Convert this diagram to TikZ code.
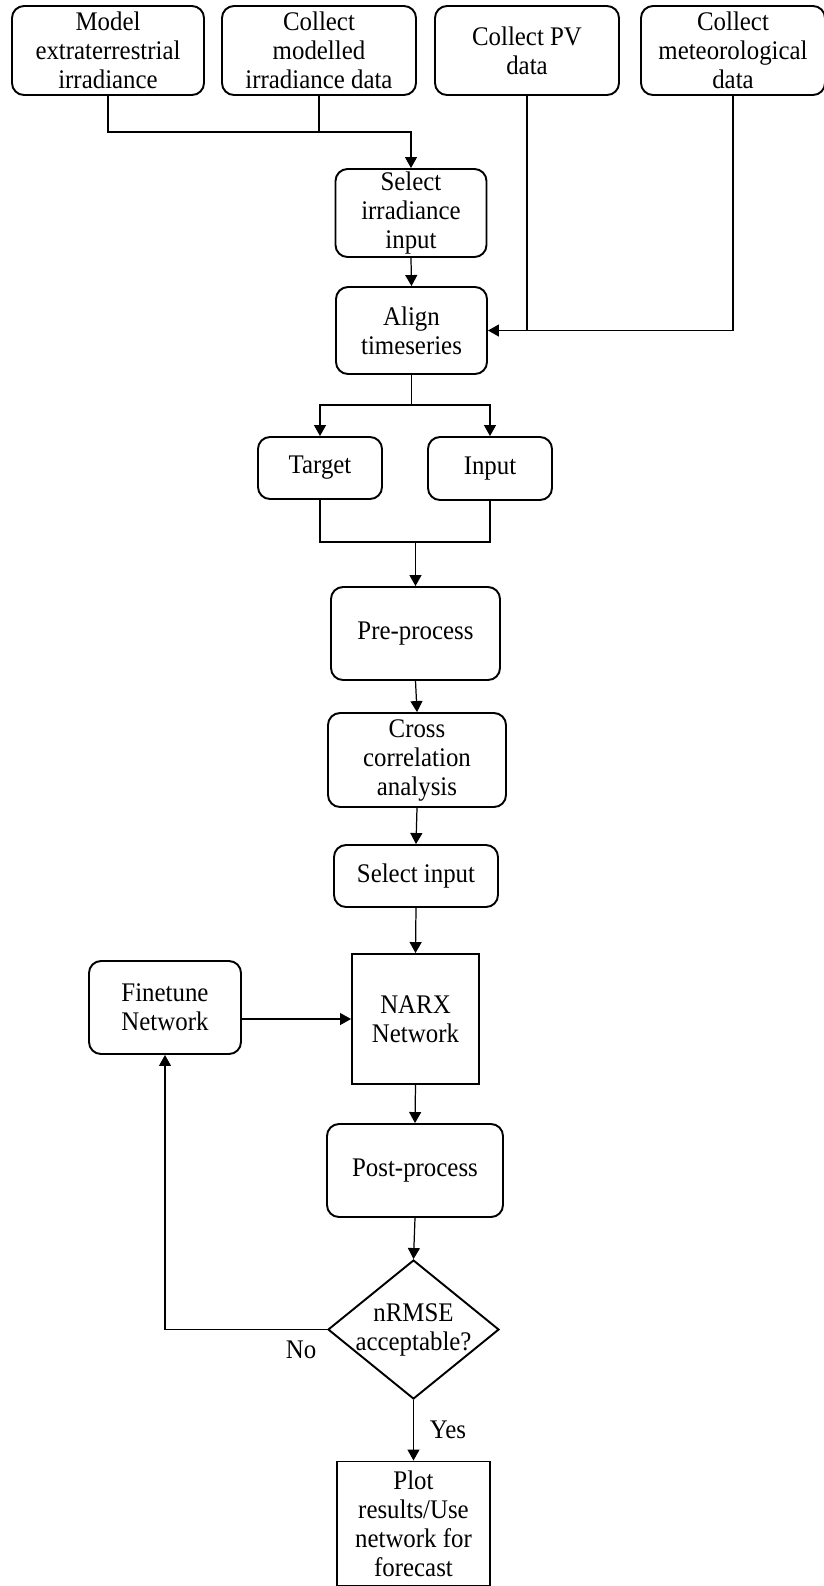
\documentclass[tikz,border=0pt]{standalone}
\usepackage{fontspec}
\setmainfont{Liberation Serif}[FakeStretch=0.925]
\usetikzlibrary{arrows.meta,shapes.geometric}

\newcommand{\flowfont}{\fontsize{15.3}{16.5}\selectfont}

\tikzset{
  box/.style={draw, line width=1.1pt, rounded corners=2.4mm, align=center, inner sep=1pt},
  sharpbox/.style={draw, line width=1.1pt, align=center, inner sep=1pt},
  decision/.style={draw, line width=1.1pt, diamond, align=center, inner sep=0pt},
  link/.style={line width=0.7pt},
}

\begin{document}
\begin{tikzpicture}[x=0.2mm, y=-0.2mm, font=\flowfont, >={Triangle[length=2.2mm,width=2.4mm]}]
  \useasboundingbox (0,0) rectangle (824,1586);

  % Data sources
  \node[box, minimum width=38.4mm, minimum height=17.8mm] (model) at (108,50.5) {Model\\extraterrestrial\\irradiance};
  \node[box, minimum width=38.8mm, minimum height=17.8mm] (modelled) at (319,50.5) {Collect\\modelled\\irradiance data};
  \node[box, minimum width=36.8mm, minimum height=17.8mm] (pv) at (527,50.5) {Collect PV\\data};
  \node[box, minimum width=36.8mm, minimum height=17.8mm] (met) at (733,50.5) {Collect\\meteorological\\data};

  % Main column
  \node[box, minimum width=30.2mm, minimum height=17.6mm] (selirr) at (411,213) {Select\\irradiance\\input};
  \node[box, minimum width=30.2mm, minimum height=17.4mm] (align) at (411.5,330.5) {Align\\timeseries};
  \node[box, minimum width=24.8mm, minimum height=12.4mm] (target) at (320,468) {Target};
  \node[box, minimum width=24.8mm, minimum height=12.6mm] (input) at (490,468.5) {Input};
  \node[box, minimum width=33.8mm, minimum height=18.6mm] (pre) at (415.5,633.5) {Pre-process};
  \node[box, minimum width=35.6mm, minimum height=18.8mm] (cross) at (417,760) {Cross\\correlation\\analysis};
  \node[box, minimum width=32.8mm, minimum height=12.4mm] (selin) at (416,876) {Select input};
  \node[sharpbox, minimum width=25.4mm, minimum height=26mm] (narx) at (415.5,1019) {NARX\\Network};
  \node[box, minimum width=30.4mm, minimum height=18.6mm] (fine) at (165,1007.5) {Finetune\\Network};
  \node[box, minimum width=35.2mm, minimum height=18.6mm] (post) at (415,1170.5) {Post-process};
  \node[decision, minimum width=34.2mm, minimum height=27.8mm] (check) at (413.5,1329.5)
    {\makebox[0pt]{nRMSE}\\\makebox[0pt]{acceptable?}};
  \node[sharpbox, minimum width=30.6mm, minimum height=24.8mm] (plot) at (413.5,1523.5)
    {Plot\\results/Use\\network for\\forecast};

  % Irradiance inputs
  \coordinate (j1) at (319,132);
  \draw[link] (modelled.south) -- (j1);
  \draw[link,->] (model.south) |- (j1) -| (selirr.north);
  \draw[link,->] (selirr.south) -- (align.north);

  % PV and weather data
  \draw[link,->] (pv.south) |- (align.east);
  \draw[link] (met.south) |- (pv.south |- align.east);

  % Split and merge
  \coordinate (j2) at (411.5,405);
  \draw[link] (align.south) -- (j2);
  \draw[link,->] (j2) -| (target.north);
  \draw[link,->] (j2) -| (input.north);
  \coordinate (j3) at (415.5,542);
  \draw[link] (target.south) |- (j3) -| (input.south);
  \draw[link,->] (j3) -- (pre.north);

  \draw[link,->] (pre.south) -- (cross.north);
  \draw[link,->] (cross.south) -- (selin.north);
  \draw[link,->] (selin.south) -- (narx.north);
  \draw[link,->] (narx.south) -- (post.north);
  \draw[link,->] (post.south) -- (check.north);

  % Feedback loop
  \draw[link,->] (check.west) -| node[pos=0.08, below, yshift=-1mm] {No} (fine.south);
  \draw[link,->] (fine.east |- narx.west) -- (narx.west);
  \draw[link,->] (check.south) -- node[right, xshift=2mm] {Yes} (plot.north);

\end{tikzpicture}
\end{document}
